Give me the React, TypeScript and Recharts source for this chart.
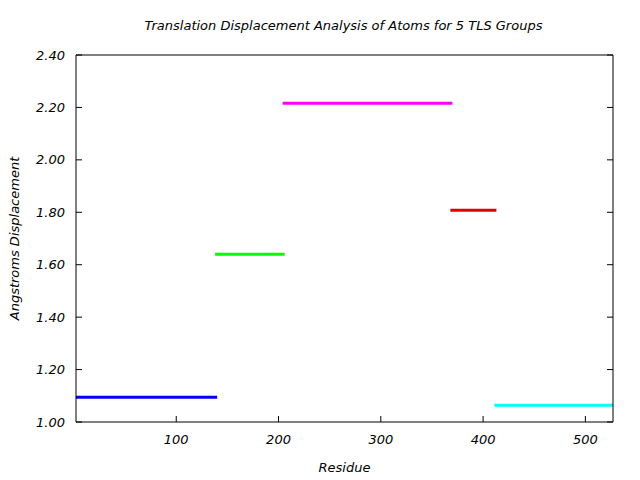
import { LineChart, Line, XAxis, YAxis, Label } from "recharts";

const groups = ["TLS 1", "TLS 2", "TLS 3", "TLS 4", "TLS 5"];
const startResidue = [2, 138, 204, 368, 411];
const endResidue = [140, 206, 370, 413, 527];
const displacement = [1.094, 1.64, 2.216, 1.808, 1.064];
const xTicks = [100, 200, 300, 400, 500];
const yTicks = [1.0, 1.2, 1.4, 1.6, 1.8, 2.0, 2.2, 2.4];

const colors = ["#0000ff", "#00ff00", "#ff00ff", "#e00000", "#00ffff"];
const font = { fontFamily: "DejaVu Sans", fontStyle: "italic", fontSize: 13, fill: "#000" };
const X_MARGIN = 13;

const series = groups.map((name, i) => ({
  name,
  data: [
    { residue: startResidue[i], value: displacement[i] },
    { residue: endResidue[i], value: displacement[i] },
  ],
}));

// bottom tick: inward mark on the frame plus the label below it
const BottomTick = (props: any) => {
  const { x, y, payload } = props;
  const axisY = y - X_MARGIN;
  return (
    <g>
      <line x1={x} x2={x} y1={axisY} y2={axisY - 6} stroke="#000" />
      <text x={x} y={y} dy="0.71em" textAnchor="middle" style={font}>
        {payload.value}
      </text>
    </g>
  );
};

// axes only used to draw the frame and its inward ticks
const innerX = (id: string) => (
  <XAxis
    xAxisId={id}
    type="number"
    domain={[2, 527]}
    ticks={xTicks}
    allowDataOverflow
    orientation="top"
    mirror
    height={1}
    tickFormatter={() => ""}
    tickSize={6}
    tickLine={{ stroke: "#000" }}
    axisLine={{ stroke: "#000" }}
  />
);

const innerY = (id: string, orientation: "left" | "right") => (
  <YAxis
    yAxisId={id}
    type="number"
    domain={[1, 2.4]}
    ticks={yTicks}
    allowDataOverflow
    orientation={orientation}
    mirror
    width={1}
    tickFormatter={() => ""}
    tickSize={6}
    tickLine={{ stroke: "#000" }}
    axisLine={{ stroke: "#000" }}
  />
);

export default function App() {
  return (
    <div style={{ position: "absolute", left: 0, top: 0, width: 640, height: 480, background: "#fff" }}>
      <div
        style={{
          position: "absolute",
          top: 18,
          width: 640,
          paddingLeft: 47,
          boxSizing: "border-box",
          textAlign: "center",
          fontFamily: "DejaVu Sans",
          fontStyle: "italic",
          fontSize: 13,
        }}
      >
        Translation Displacement Analysis of Atoms for 5 TLS Groups
      </div>
      <LineChart width={640} height={480} margin={{ top: 55, right: 27, bottom: 0, left: 0 }}>
        {innerX("t")}
        {innerY("li", "left")}
        {innerY("r", "right")}
        <XAxis
          xAxisId="b"
          dataKey="residue"
          type="number"
          domain={[2, 527]}
          ticks={xTicks}
          allowDataOverflow
          tickLine={false}
          tickSize={0}
          tickMargin={X_MARGIN}
          height={58}
          axisLine={{ stroke: "#000" }}
          tick={<BottomTick />}
        >
          <Label value="Residue" position="insideBottom" offset={8} style={font} />
        </XAxis>
        <YAxis
          yAxisId="l"
          type="number"
          domain={[1, 2.4]}
          ticks={yTicks}
          allowDataOverflow
          width={76}
          tickLine={false}
          tickSize={0}
          tickMargin={11}
          axisLine={false}
          tick={font}
          tickFormatter={(v: number) => v.toFixed(2)}
        >
          <Label value="Angstroms Displacement" angle={-90} position="insideLeft" offset={14} style={{ ...font, textAnchor: "middle" }} />
        </YAxis>
        {series.map((s, i) => (
          <Line
            key={s.name}
            xAxisId="b"
            yAxisId="l"
            data={s.data}
            dataKey="value"
            name={s.name}
            stroke={colors[i]}
            strokeWidth={3}
            strokeLinecap="butt"
            dot={false}
            activeDot={false}
            isAnimationActive={false}
          />
        ))}
      </LineChart>
    </div>
  );
}
